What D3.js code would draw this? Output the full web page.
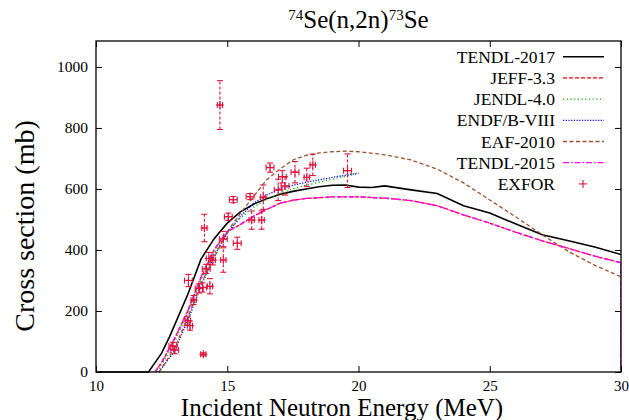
<!DOCTYPE html>
<html><head><meta charset="utf-8">
<script src="https://cdn.jsdelivr.net/npm/d3@7"></script>
<style>body{margin:0;background:#fff}</style>
</head><body><svg id="c" width="629" height="420"></svg>
<script>
const xTicks = [10, 15, 20, 25, 30];
const yTicks = [0, 200, 400, 600, 800, 1000];
const seriesNames = ["TENDL-2017", "JEFF-3.3", "JENDL-4.0", "ENDF/B-VIII", "EAF-2010", "TENDL-2015", "EXFOR"];

const tendl2017E = [10, 12.0, 12.5, 12.8, 13.5, 14.0, 14.5, 15.0, 15.5, 16.0, 16.5, 17.0, 17.5, 18.0, 18.5, 19.0, 19.5, 20.0, 20.5, 21.0, 22.0, 23.0, 24.0, 25.0, 26.0, 27.0, 28.0, 29.0, 30.0];
const tendl2017S = [0, 0, 62, 115, 255, 370, 437, 488, 525, 550, 568, 582, 592, 600, 607, 612, 613, 606, 605, 610, 597, 585, 545, 521, 485, 450, 430, 410, 385];

const jeffE = [12.25, 12.5, 13.0, 13.5, 14.0, 14.5, 15.0, 15.5, 16.0, 16.5, 17.0, 17.5, 18.0, 19.0, 20.0, 21.0, 22.0, 23.0, 24.0, 25.0, 26.0, 27.0, 28.0, 29.0, 30.0, 30.0];
const jeffS = [0, 30, 110, 200, 310, 400, 460, 483, 510, 532, 553, 563, 569, 574, 574, 570, 562, 545, 515, 488, 458, 430, 405, 380, 358, 0];

const jendlE = [12.35, 12.5, 13.0, 13.5, 14.0, 14.5, 15.0, 15.5, 16.0, 16.5, 17.0, 17.5, 18.0, 18.5, 19.0, 19.5, 20.0];
const jendlS = [0, 22, 100, 195, 300, 390, 455, 505, 540, 565, 585, 600, 612, 622, 632, 642, 650];

const endfE = [12.4, 12.5, 13.0, 13.5, 14.0, 14.5, 15.0, 15.5, 16.0, 16.5, 17.0, 17.5, 18.0, 18.5, 19.0, 19.5, 20.0];
const endfS = [0, 12, 70, 170, 280, 380, 455, 510, 553, 580, 600, 612, 622, 630, 638, 645, 652];

const eafE = [12.4, 12.5, 13.0, 13.5, 14.0, 14.5, 15.0, 15.5, 16.0, 16.5, 17.0, 17.5, 18.0, 18.5, 19.0, 19.5, 20.0, 21.0, 22.0, 23.0, 24.0, 25.0, 26.0, 27.0, 28.0, 29.0, 30.0];
const eafS = [0, 12, 80, 180, 290, 375, 460, 520, 575, 630, 665, 695, 710, 718, 722, 724, 722, 712, 695, 665, 620, 564, 508, 450, 395, 350, 312];

const tendl2015E = [12.25, 12.5, 13.0, 13.5, 14.0, 14.5, 15.0, 15.5, 16.0, 16.5, 17.0, 17.5, 18.0, 19.0, 20.0, 21.0, 22.0, 23.0, 24.0, 25.0, 26.0, 27.0, 28.0, 29.0, 30.0, 30.0];
const tendl2015S = [0, 32, 112, 202, 312, 401, 460, 484, 511, 533, 553, 563, 569, 574, 574, 570, 562, 545, 515, 488, 458, 430, 405, 380, 358, 0];

// EXFOR: energy (MeV), cross section (mb), uncertainty (mb), energy half-width (MeV)
const exforE = [12.93, 13.0, 13.5, 13.58, 13.52, 13.72, 13.93, 14.06, 14.34, 14.09, 14.13, 14.2, 14.3, 14.45, 14.72, 14.85, 14.85, 15.04, 15.23, 15.38, 15.87, 15.93, 16.31, 16.37, 16.63, 16.94, 17.1, 17.2, 17.58, 18.03, 18.26, 19.58];
const exforS = [85, 72, 168, 152, 300, 236, 274, 277, 281, 58, 472, 338, 372, 366, 875, 436, 367, 509, 565, 422, 575, 498, 498, 573, 670, 597, 640, 610, 655, 638, 679, 660];
const exforErr = [12, 12, 15, 15, 20, 15, 15, 15, 25, 5, 45, 15, 20, 15, 80, 25, 40, 12, 10, 20, 10, 30, 30, 40, 15, 35, 20, 30, 35, 30, 35, 55];
const exforDE = [0.15, 0.15, 0.1, 0.1, 0.15, 0.1, 0.15, 0.15, 0.1, 0.1, 0.1, 0.15, 0.1, 0.1, 0.1, 0.15, 0.1, 0.15, 0.15, 0.15, 0.15, 0.1, 0.1, 0.1, 0.15, 0.15, 0.15, 0.15, 0.15, 0.1, 0.1, 0.15];

const FONT = "Liberation Serif";
const svg = d3.select("#c");
const L = 96, R = 621, T = 41, B = 372;
const x = d3.scaleLinear().domain([10, 30]).range([L, R]);
const y = d3.scaleLinear().domain([0, 1085]).range([B, T]);

svg.append("defs").append("clipPath").attr("id", "clip")
  .append("rect").attr("x", L).attr("y", T).attr("width", R - L).attr("height", B - T + 1);

const tl = 6;
const fmt = d3.format("d");
svg.append("g").attr("transform", `translate(0,${B})`)
  .call(d3.axisBottom(x).tickValues(xTicks).tickFormat(fmt).tickSizeInner(-tl).tickSizeOuter(0).tickPadding(8))
  .call(g => { g.select(".domain").remove();
    g.selectAll("text").attr("font-size", 15).attr("dy", "0.71em").style("font-family", FONT); });
svg.append("g").attr("transform", `translate(0,${T})`)
  .call(d3.axisTop(x).tickValues(xTicks).tickSizeInner(-tl).tickSizeOuter(0).tickFormat(""))
  .call(g => g.select(".domain").remove());
svg.append("g").attr("transform", `translate(${L},0)`)
  .call(d3.axisLeft(y).tickValues(yTicks).tickFormat(fmt).tickSizeInner(-tl).tickSizeOuter(0).tickPadding(8))
  .call(g => { g.select(".domain").remove();
    g.selectAll("text").attr("font-size", 15.5).style("font-family", FONT); });
svg.append("g").attr("transform", `translate(${R},0)`)
  .call(d3.axisRight(y).tickValues(yTicks).tickSizeInner(-tl).tickSizeOuter(0).tickFormat(""))
  .call(g => g.select(".domain").remove());

const line = d3.line().x(d => x(d[0])).y(d => y(d[1]));
const series = [
  {name: seriesNames[0], E: tendl2017E, S: tendl2017S, color: "#000000", dash: null, w: 1.6},
  {name: seriesNames[1], E: jeffE, S: jeffS, color: "#ff0000", dash: "4,2", w: 1.3},
  {name: seriesNames[2], E: jendlE, S: jendlS, color: "#00b000", dash: "1.2,2.5", w: 1.3},
  {name: seriesNames[3], E: endfE, S: endfS, color: "#0000ff", dash: "1.2,1.5", w: 1.3},
  {name: seriesNames[4], E: eafE, S: eafS, color: "#a0522d", dash: "4,2.5", w: 1.3},
  {name: seriesNames[5], E: tendl2015E, S: tendl2015S, color: "#ff00ff", dash: "6,2,1.5,2", w: 1.3}
];
const plot = svg.append("g").attr("clip-path", "url(#clip)");
series.forEach(s => {
  plot.append("path").datum(s.E.map((e, i) => [e, s.S[i]]))
    .attr("d", line).attr("fill", "none").attr("stroke", s.color)
    .attr("stroke-width", s.w).attr("stroke-dasharray", s.dash);
});

// EXFOR points with error bars
const ec = "#dc143c";
const ex = plot.append("g").attr("stroke", ec).attr("stroke-width", 1.1).attr("fill", "none");
exforE.forEach((e, i) => {
  const px = x(e), py = y(exforS[i]);
  const y1 = y(exforS[i] - exforErr[i]), y2 = y(exforS[i] + exforErr[i]);
  const x1 = x(e - exforDE[i]), x2 = x(e + exforDE[i]);
  ex.append("line").attr("x1", px).attr("x2", px).attr("y1", y1).attr("y2", y2).attr("stroke-dasharray", "3,2");
  ex.append("line").attr("x1", px - 3).attr("x2", px + 3).attr("y1", y1).attr("y2", y1);
  ex.append("line").attr("x1", px - 3).attr("x2", px + 3).attr("y1", y2).attr("y2", y2);
  ex.append("line").attr("x1", x1).attr("x2", x2).attr("y1", py).attr("y2", py);
  ex.append("line").attr("x1", x1).attr("x2", x1).attr("y1", py - 3).attr("y2", py + 3);
  ex.append("line").attr("x1", x2).attr("x2", x2).attr("y1", py - 3).attr("y2", py + 3);
  ex.append("line").attr("x1", px - 4).attr("x2", px + 4).attr("y1", py).attr("y2", py);
  ex.append("line").attr("x1", px).attr("x2", px).attr("y1", py - 4).attr("y2", py + 4);
});

svg.append("rect").attr("x", L).attr("y", T).attr("width", R - L).attr("height", B - T)
  .attr("fill", "none").attr("stroke", "#000").attr("stroke-width", 1.3);

// legend
const lg = svg.append("g");
const rowY = i => 56.7 + i * 21.2;
const txt = (sel) => sel.append("text").style("font-family", FONT).attr("fill", "#000");
series.forEach((s, i) => {
  txt(lg).attr("x", 555).attr("y", rowY(i)).attr("dy", "0.35em")
    .attr("text-anchor", "end").attr("font-size", 17.5).text(s.name);
  lg.append("line").attr("x1", 563).attr("x2", 604).attr("y1", rowY(i)).attr("y2", rowY(i))
    .attr("stroke", s.color).attr("stroke-width", s.w).attr("stroke-dasharray", s.dash);
});
txt(lg).attr("x", 555).attr("y", rowY(6)).attr("dy", "0.35em")
  .attr("text-anchor", "end").attr("font-size", 17.5).text(seriesNames[6]);
lg.append("line").attr("x1", 579).attr("x2", 587).attr("y1", rowY(6)).attr("y2", rowY(6)).attr("stroke", ec).attr("stroke-width", 1.1);
lg.append("line").attr("x1", 583).attr("x2", 583).attr("y1", rowY(6) - 4).attr("y2", rowY(6) + 4).attr("stroke", ec).attr("stroke-width", 1.1);

// title
const t = txt(svg).attr("x", (L + R) / 2).attr("y", 28).attr("text-anchor", "middle").attr("font-size", 25);
t.append("tspan").attr("font-size", 15).attr("dy", "-8").text("74");
t.append("tspan").attr("dy", "8").text("Se(n,2n)");
t.append("tspan").attr("font-size", 15).attr("dy", "-8").text("73");
t.append("tspan").attr("dy", "8").text("Se");

// axis titles
txt(svg).attr("x", 342).attr("y", 416).attr("text-anchor", "middle").attr("font-size", 25)
  .text("Incident Neutron Energy (MeV)");
txt(svg).attr("transform", `translate(34,226) rotate(-90)`).attr("text-anchor", "middle")
  .attr("font-size", 28).text("Cross section (mb)");
</script></body></html>
